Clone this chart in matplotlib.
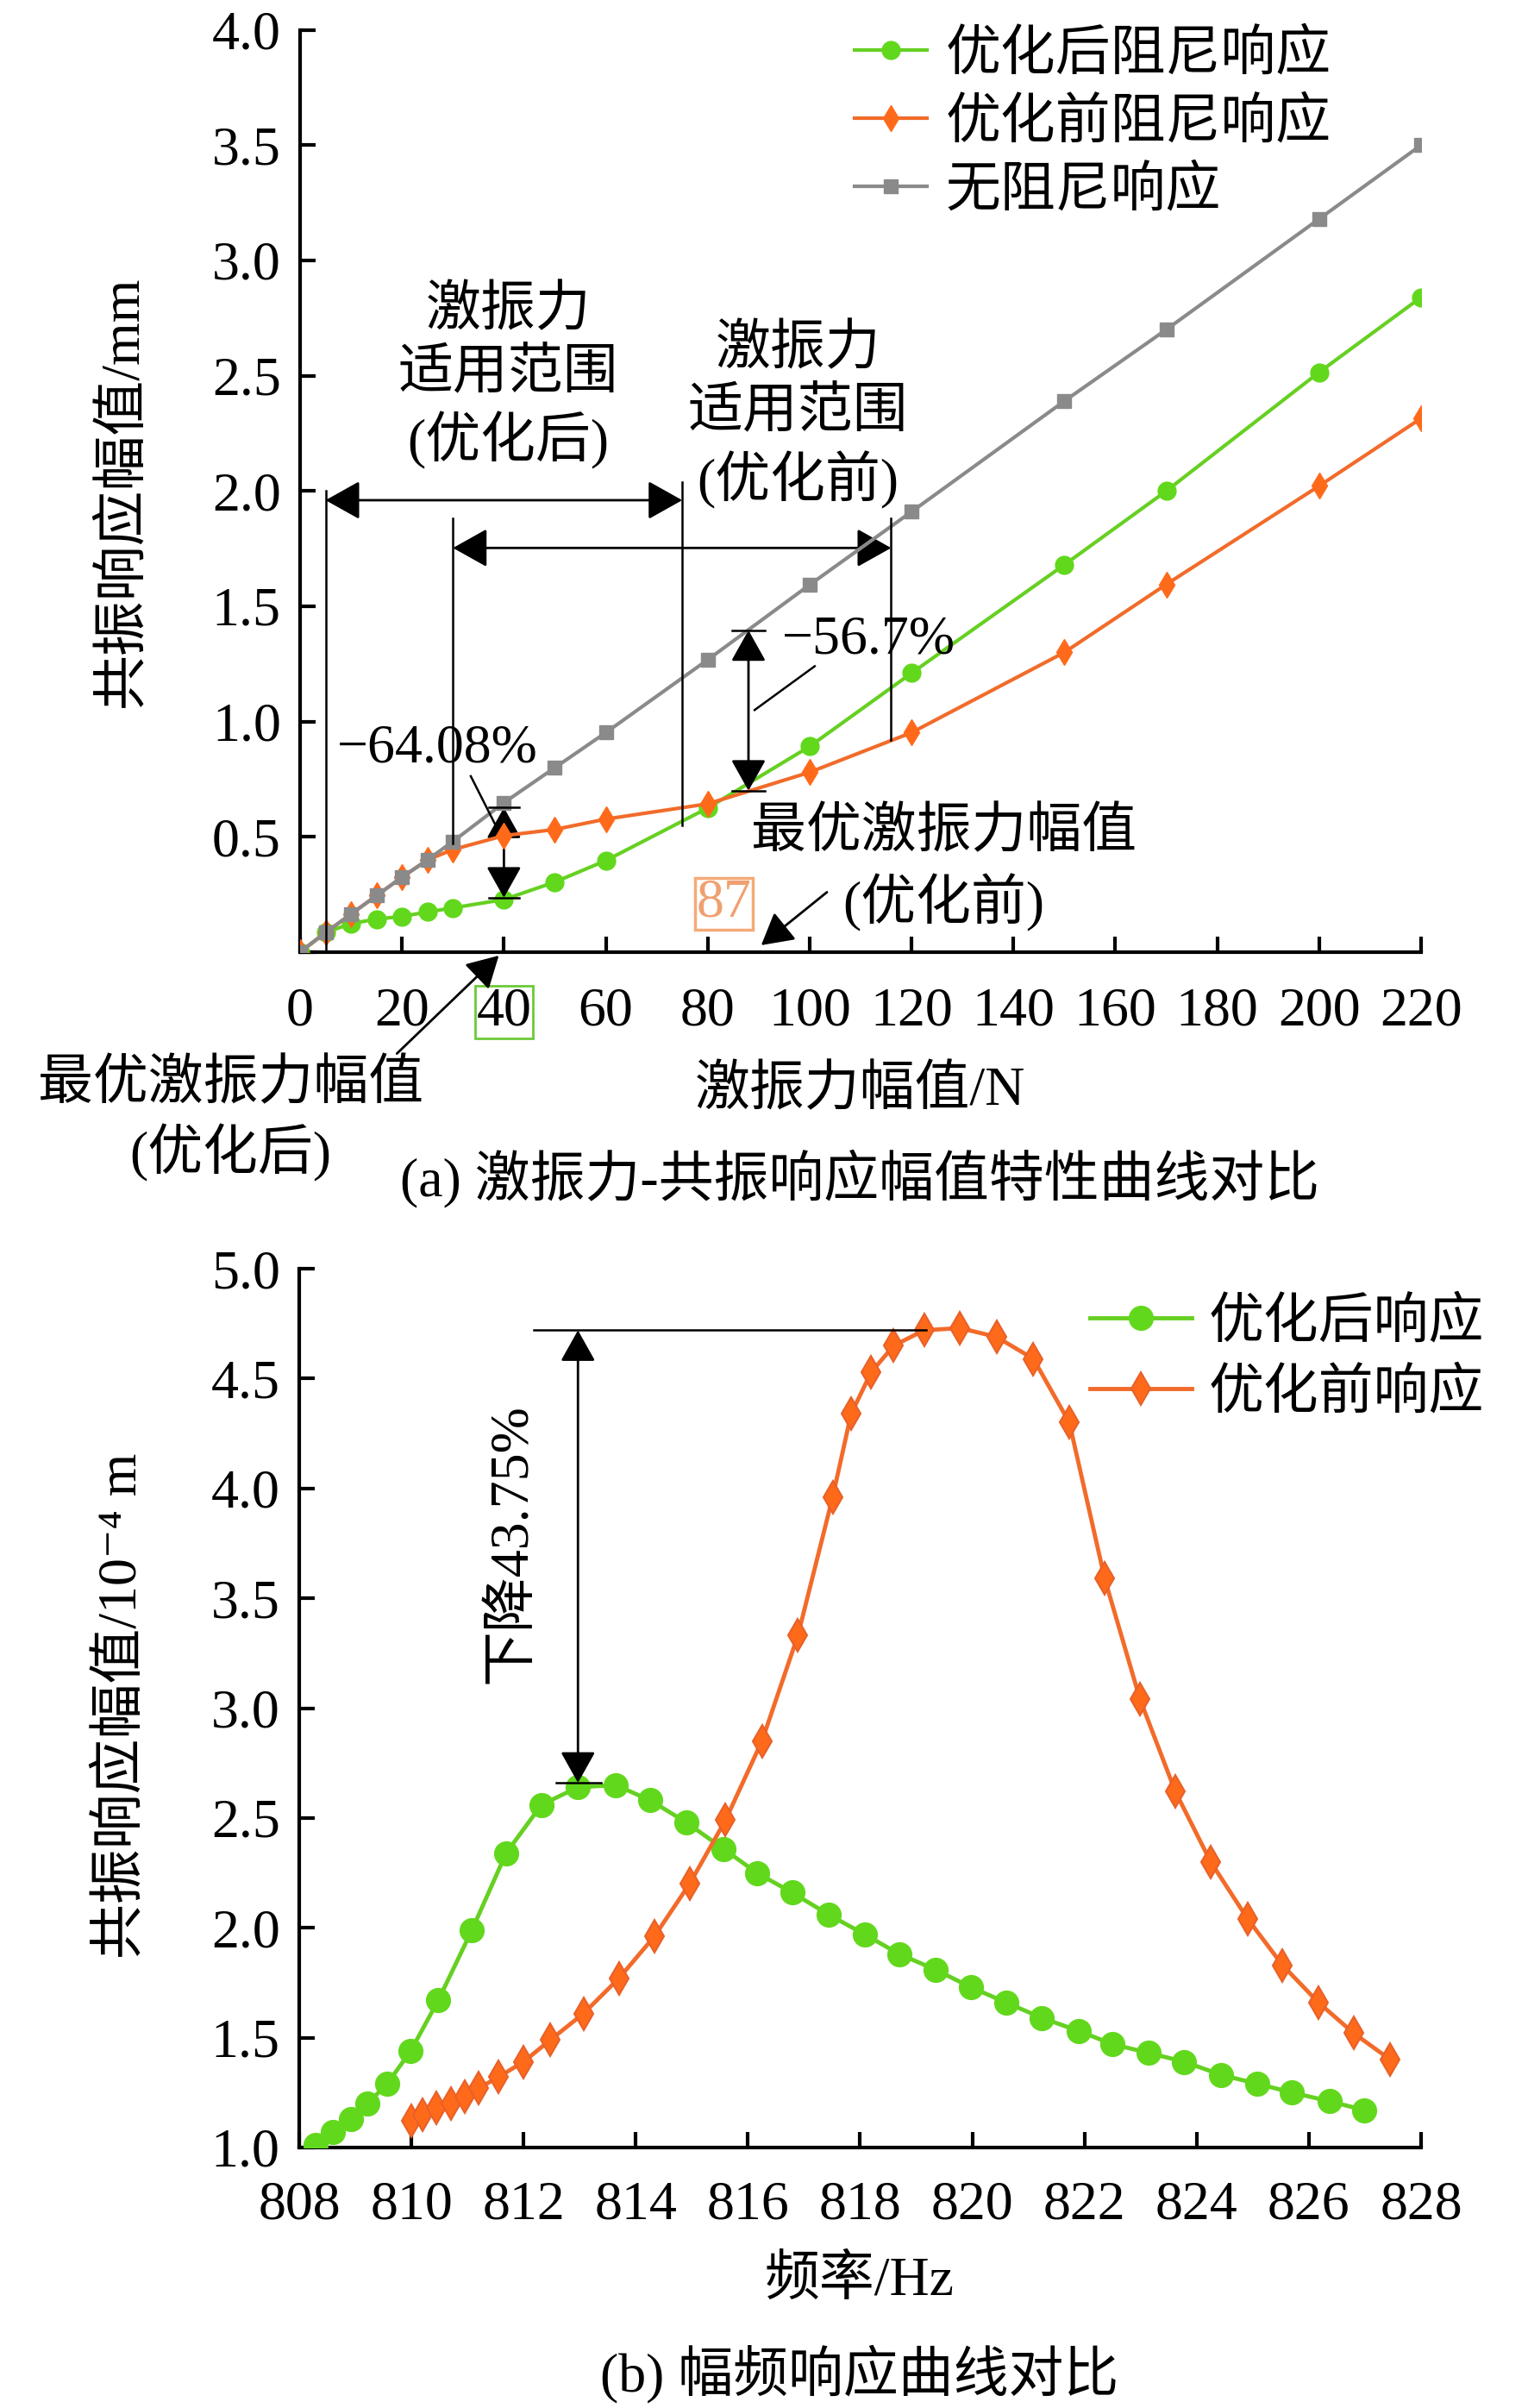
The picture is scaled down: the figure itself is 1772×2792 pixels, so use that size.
import matplotlib
matplotlib.use("Agg")
import matplotlib.pyplot as plt

plt.rcParams['font.family'] = ['Liberation Serif', 'Noto Sans CJK SC', 'DejaVu Sans']
plt.rcParams['axes.unicode_minus'] = True

# ---------------- data (a) ----------------
force = [0, 5, 10, 15, 20, 25, 30, 40, 50, 60, 80, 100, 120, 150, 170, 200, 220]
amp_after_damp = [0, 0.085, 0.124, 0.143, 0.155, 0.174, 0.192, 0.228, 0.304, 0.397,
                  0.625, 0.892, 1.21, 1.68, 2.0, 2.515, 2.84]
amp_before_damp = [0, 0.085, 0.165, 0.245, 0.325, 0.40, 0.445, 0.505, 0.532, 0.577,
                   0.643, 0.78, 0.952, 1.30, 1.595, 2.022, 2.315]
amp_undamped = [0, 0.085, 0.165, 0.245, 0.325, 0.40, 0.48, 0.648, 0.80, 0.952,
                1.268, 1.593, 1.91, 2.39, 2.70, 3.18, 3.50]
labels_a = ['优化后阻尼响应', '优化前阻尼响应', '无阻尼响应']
xticks_a = [0, 20, 40, 60, 80, 100, 120, 140, 160, 180, 200, 220]
yticks_a = [0.5, 1.0, 1.5, 2.0, 2.5, 3.0, 3.5, 4.0]

# ---------------- data (b) ----------------
freq_after = [808.3, 808.6, 808.93, 809.22, 809.57, 809.99, 810.48, 811.08, 811.69, 812.32,
              812.97, 813.64, 814.26, 814.9, 815.56, 816.16, 816.79, 817.44, 818.08, 818.7,
              819.34, 819.97, 820.6, 821.24, 821.9, 822.5, 823.15, 823.78, 824.44, 825.08,
              825.7, 826.37, 826.99]
resp_after = [1.01, 1.07, 1.13, 1.20, 1.29, 1.44, 1.67, 1.99, 2.34, 2.56,
              2.64, 2.65, 2.58, 2.48, 2.36, 2.25, 2.16, 2.06, 1.97, 1.88,
              1.81, 1.73, 1.66, 1.59, 1.53, 1.47, 1.43, 1.39, 1.33, 1.29,
              1.25, 1.21, 1.17]
freq_before = [810.0, 810.2, 810.45, 810.7, 810.95, 811.2, 811.55, 812.0, 812.48, 813.07,
               813.7, 814.33, 814.96, 815.6, 816.25, 816.89, 817.51, 817.84, 818.2, 818.6,
               819.14, 819.78, 820.43, 821.09, 821.73, 822.36, 822.99, 823.62, 824.25, 824.91,
               825.53, 826.17, 826.8, 827.45]
resp_before = [1.12, 1.15, 1.18, 1.20, 1.23, 1.27, 1.32, 1.39, 1.49, 1.61,
               1.77, 1.96, 2.20, 2.49, 2.85, 3.33, 3.96, 4.34, 4.53, 4.65,
               4.72, 4.73, 4.69, 4.59, 4.30, 3.59, 3.04, 2.62, 2.30, 2.04,
               1.83, 1.66, 1.52, 1.40]
labels_b = ['优化后响应', '优化前响应']
xticks_b = list(range(808, 829, 2))
yticks_b = [1.0, 1.5, 2.0, 2.5, 3.0, 3.5, 4.0, 4.5, 5.0]

GREEN = '#66d022'
GREEN_M = '#62d81c'
ORANGE = '#f26b2a'
ORANGE_M = '#ff6a1a'
GRAY = '#8a8a8a'
FS = 46

fig = plt.figure(figsize=(17.72, 27.92), dpi=100)
fig.patch.set_facecolor('white')


def style_axes(ax, xpad):
    for s in ['top', 'right']:
        ax.spines[s].set_visible(False)
    for s in ['left', 'bottom']:
        ax.spines[s].set_linewidth(3)
    ax.tick_params(direction='in', length=13, width=3, labelsize=FS)
    ax.tick_params(axis='y', pad=16)
    ax.tick_params(axis='x', pad=xpad)


def darrow(ax, p1, p2, ms=50, hl=0.5, hw=0.28, style='<|-|>'):
    ax.annotate('', xy=p2, xytext=p1,
                arrowprops=dict(arrowstyle=f'{style},head_length={hl},head_width={hw}',
                                mutation_scale=ms, lw=2, color='black',
                                shrinkA=0, shrinkB=0), annotation_clip=False)


# ======================= (a) =======================
ax1 = fig.add_axes([0.1964, 0.6046, 0.7336, 0.3830])
style_axes(ax1, 29)
ax1.plot(force, amp_after_damp, '-o', color=GREEN, lw=3, ms=15, mfc=GREEN_M, mec=GREEN_M,
         label=labels_a[0], zorder=3)
ax1.plot(force, amp_before_damp, '-d', color=ORANGE, lw=3, ms=15, mfc=ORANGE_M, mec=ORANGE_M,
         label=labels_a[1], zorder=4)
ax1.plot(force, amp_undamped, '-s', color=GRAY, lw=3, ms=12, mfc=GRAY, mec=GRAY,
         label=labels_a[2], zorder=5)
ax1.set_xlim(0, 220)
ax1.set_ylim(0, 4.0)
ax1.set_xticks(xticks_a)
ax1.set_xticklabels([str(v) for v in xticks_a])
ax1.set_yticks([0] + yticks_a)
ax1.set_yticklabels([''] + [f'{v:.1f}' for v in yticks_a])
for lab in ax1.get_xticklabels():
    if lab.get_text() == '40':
        lab.set_bbox(dict(facecolor='none', edgecolor='#6cc93a', lw=2, pad=1))
ax1.set_xlabel('激振力幅值/N', fontsize=FS)
ax1.xaxis.set_label_coords(0.4995, -0.1235)
ax1.set_ylabel('共振响应幅值/mm', fontsize=FS)
ax1.yaxis.set_label_coords(-0.135, 0.5)
ax1.legend(loc='upper left', bbox_to_anchor=(0.495, 1.0), frameon=False, fontsize=FS,
           handlelength=1.3, handletextpad=0.35, labelspacing=0.3, borderpad=0,
           borderaxespad=0)

# range lines
lk = dict(color='black', lw=1.8, zorder=6)
ax1.plot([5, 5], [0, 2.0], **lk)
ax1.plot([75, 75], [0.55, 2.04], **lk)
ax1.plot([30, 30], [0.47, 1.88], **lk)
ax1.plot([116, 116], [0.92, 1.88], **lk)
darrow(ax1, (5, 1.96), (75, 1.96))
darrow(ax1, (30, 1.753), (116, 1.753))
ax1.text(40.8, 2.49, '激振力\n适用范围\n(优化后)', fontsize=FS, ha='center', va='center',
         linespacing=1.27)
ax1.text(97.7, 2.32, '激振力\n适用范围\n(优化前)', fontsize=FS, ha='center', va='center',
         linespacing=1.27)

# -64.08 %
darrow(ax1, (40, 0.236), (40, 0.627), ms=45)
ax1.plot([37, 43], [0.627, 0.627], **lk)
ax1.plot([37, 43], [0.236, 0.236], **lk)
ax1.text(27, 0.88, '−64.08%', fontsize=FS, ha='center', va='center')
ax1.plot([33.5, 38.6], [0.763, 0.54], **lk)

# -56.7 %
darrow(ax1, (88, 0.70), (88, 1.396), ms=45)
ax1.plot([84.8, 91.2], [1.396, 1.396], **lk)
ax1.plot([84.8, 91.2], [0.70, 0.70], **lk)
ax1.text(111.5, 1.352, '−56.7%', fontsize=FS, ha='center', va='center')
ax1.plot([101, 89.2], [1.24, 1.05], **lk)

ax1.text(126.3, 0.512, '最优激振力幅值', fontsize=FS, ha='center', va='center')
ax1.text(126.3, 0.213, '(优化前)', fontsize=FS, ha='center', va='center')
ax1.text(83.2, 0.21, '87', fontsize=FS, ha='center', va='center', color='#f0a070',
         bbox=dict(facecolor='none', edgecolor='#f4aa78', lw=2.5, pad=1))
darrow(ax1, (103.4, 0.26), (90.5, 0.03), ms=45, style='-|>')

# optimal (after)
ax1.text(-13.6, -0.58, '最优激振力幅值', fontsize=FS, ha='center', va='center', clip_on=False)
ax1.text(-13.6, -0.87, '(优化后)', fontsize=FS, ha='center', va='center', clip_on=False)
darrow(ax1, (19, -0.44), (39, -0.015), ms=45, style='-|>')

fig.text(0.5627, 0.5107, '(a) 激振力-共振响应幅值特性曲线对比', fontsize=FS,
         ha='center', va='center')

# ======================= (b) =======================
ax2 = fig.add_axes([0.1958, 0.1082, 0.7342, 0.3649])
style_axes(ax2, 28)
ax2.plot(freq_after, resp_after, '-o', color=GREEN, lw=3.5, ms=20, mfc=GREEN_M, mec=GREEN_M,
         label=labels_b[0], zorder=3)
ax2.plot(freq_before, resp_before, '-d', color=ORANGE, lw=3.5, ms=19, mfc=ORANGE_M,
         mec='#e8602a', mew=1.5, label=labels_b[1], zorder=4)
ax2.set_xlim(808, 828)
ax2.set_ylim(1.0, 5.0)
ax2.set_xticks(xticks_b)
ax2.set_xticklabels([str(v) for v in xticks_b])
ax2.set_yticks(yticks_b)
ax2.set_yticklabels([f'{v:.1f}' for v in yticks_b])
ax2.set_xlabel('频率/Hz', fontsize=FS)
ax2.xaxis.set_label_coords(0.4995, -0.1235)
ax2.set_ylabel('共振响应幅值/10⁻⁴ m', fontsize=FS)
ax2.yaxis.set_label_coords(-0.135, 0.503)
ax2.legend(loc='upper left', bbox_to_anchor=(0.705, 0.967), frameon=False, fontsize=FS,
           handlelength=1.85, handletextpad=0.3, labelspacing=0.35, borderpad=0,
           borderaxespad=0)

ax2.plot([812.18, 819.17], [4.72, 4.72], **lk)
ax2.plot([812.58, 813.38], [2.66, 2.66], **lk)
darrow(ax2, (812.97, 2.66), (812.97, 4.72), ms=45)
ax2.text(811.8, 3.75, '下降43.75%', fontsize=FS, ha='center', va='center', rotation=90)

fig.text(0.5627, 0.0143, '(b) 幅频响应曲线对比', fontsize=FS, ha='center', va='center')

fig.savefig('out.png', dpi=100, facecolor='white')
